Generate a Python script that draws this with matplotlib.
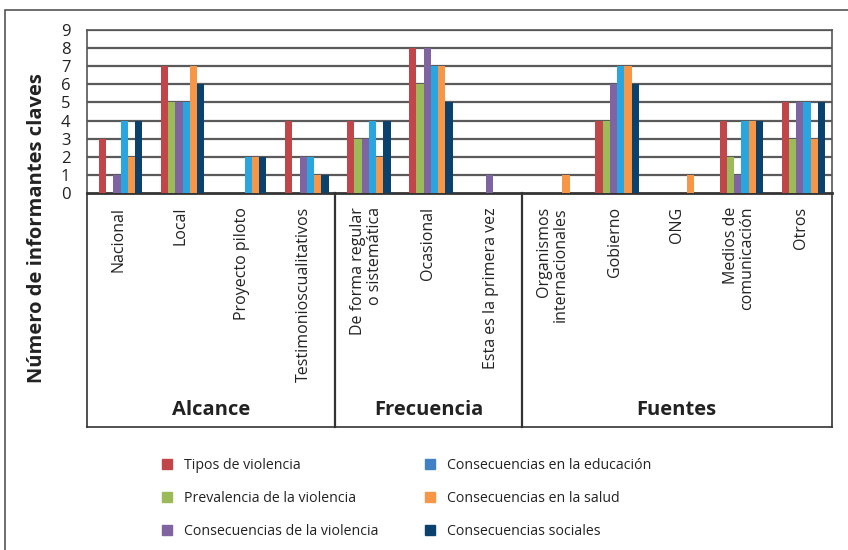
import numpy as np
import matplotlib.pyplot as plt
from matplotlib.patches import Patch, Rectangle

plt.rcParams["font.family"] = ["Open Sans", "DejaVu Sans"]

# categorias y grupos
categorias = ["Nacional", "Local", "Proyecto piloto", "Testimonioscualitativos",
              "De forma regular\no sistemática", "Ocasional", "Esta es la primera vez",
              "Organismos\ninternacionales", "Gobierno", "ONG",
              "Medios de\ncomunicación", "Otros"]
grupos = ["Alcance", "Frecuencia", "Fuentes"]
tam_grupos = [4, 3, 5]

series = ["Tipos de violencia", "Prevalencia de la violencia",
          "Consecuencias de la violencia", "Consecuencias en la educación",
          "Consecuencias en la salud", "Consecuencias sociales"]

tipos = [3, 7, 0, 4, 4, 8, 0, 0, 4, 0, 4, 5]
prevalencia = [0, 5, 0, 0, 3, 6, 0, 0, 4, 0, 2, 3]
cons_violencia = [1, 5, 0, 2, 3, 8, 1, 0, 6, 0, 1, 5]
cons_educacion = [4, 5, 2, 2, 4, 7, 0, 0, 7, 0, 4, 5]
cons_salud = [2, 7, 2, 1, 2, 7, 0, 1, 7, 1, 4, 3]
cons_sociales = [4, 6, 2, 1, 4, 5, 0, 0, 6, 0, 4, 5]

valores = [tipos, prevalencia, cons_violencia, cons_educacion, cons_salud, cons_sociales]
colores = ["#C0464A", "#9BBB59", "#8064A2", "#29A6E0", "#F79646", "#0B416D"]
colores_leyenda = ["#C0464A", "#9BBB59", "#8064A2", "#4080C4", "#F79646", "#0B416D"]

W, H = 848, 550
fig = plt.figure(figsize=(W / 100, H / 100), dpi=100)

# marco exterior
fig.patches.append(Rectangle((5 / W, -0.1), 1.2, 1 - 10 / H + 0.1, transform=fig.transFigure,
                             fill=False, edgecolor="#555555", linewidth=1.2))

x0, x1, y0, y1 = 87, 832, 193, 30
ax = fig.add_axes([x0 / W, 1 - y0 / H, (x1 - x0) / W, (y0 - y1) / H])

x = np.arange(len(categorias))
w = 0.117
for i, (vals, c) in enumerate(zip(valores, colores)):
    ax.bar(x + 0.04 + (i - 2.5) * w, vals, w, color=c, zorder=3)

ax.set_xlim(-0.5, len(categorias) - 0.5)
ax.set_ylim(0, 9)
ax.set_yticks(range(10))
ax.tick_params(axis="y", length=0, pad=12, labelsize=12, colors="#222222")
ax.set_xticks([])
for y in range(1, 10):
    ax.axhline(y, color="#5a5a5a", linewidth=1.6, zorder=1)
for s in ["left", "right", "top"]:
    ax.spines[s].set_color("#555555")
    ax.spines[s].set_linewidth(1.2)
ax.spines["bottom"].set_color("#333333")
ax.spines["bottom"].set_linewidth(2)

# tabla de categorias
abajo = -(427 - y0) / (y0 - y1)
kw = dict(transform=ax.get_xaxis_transform(), clip_on=False, color="#333333")
ax.plot([-0.5, -0.5], [0, abajo], linewidth=1.2, **kw)
ax.plot([len(categorias) - 0.5] * 2, [0, abajo], linewidth=1.2, **kw)
ax.plot([-0.5, len(categorias) - 0.5], [abajo, abajo], linewidth=1.2, **kw)
inicio = -0.5
for g, n in zip(grupos, tam_grupos):
    fin = inicio + n
    if fin < len(categorias) - 0.5:
        ax.plot([fin, fin], [0, abajo], linewidth=1.6, **kw)
    ax.text((inicio + fin) / 2, -(410 - y0) / (y0 - y1), g, ha="center", va="center",
            fontsize=14.5, fontweight="bold", color="#222222", transform=ax.get_xaxis_transform())
    inicio = fin

for xi, cat in zip(x, categorias):
    ax.text(xi, -(207 - y0) / (y0 - y1), cat, rotation=90, ha="center", va="top",
            multialignment="right", fontsize=11.5, color="#222222", linespacing=1.05,
            transform=ax.get_xaxis_transform())

fig.text(37 / W, 1 - 228 / H, "Número de informantes claves", rotation=90,
         ha="center", va="center", fontsize=14.5, fontweight="bold", color="#222222")

handles = [Patch(color=c, label=s) for c, s in zip(colores_leyenda, series)]
fig.legend(handles=handles, ncol=2, frameon=False, loc="upper left",
           bbox_to_anchor=(149 / W, 1 - 445 / H), fontsize=10.2,
           handlelength=0.72, handleheight=0.72, handletextpad=0.85,
           labelspacing=1.27, columnspacing=3.3, labelcolor="#222222")

fig.savefig("out.png", dpi=100)
